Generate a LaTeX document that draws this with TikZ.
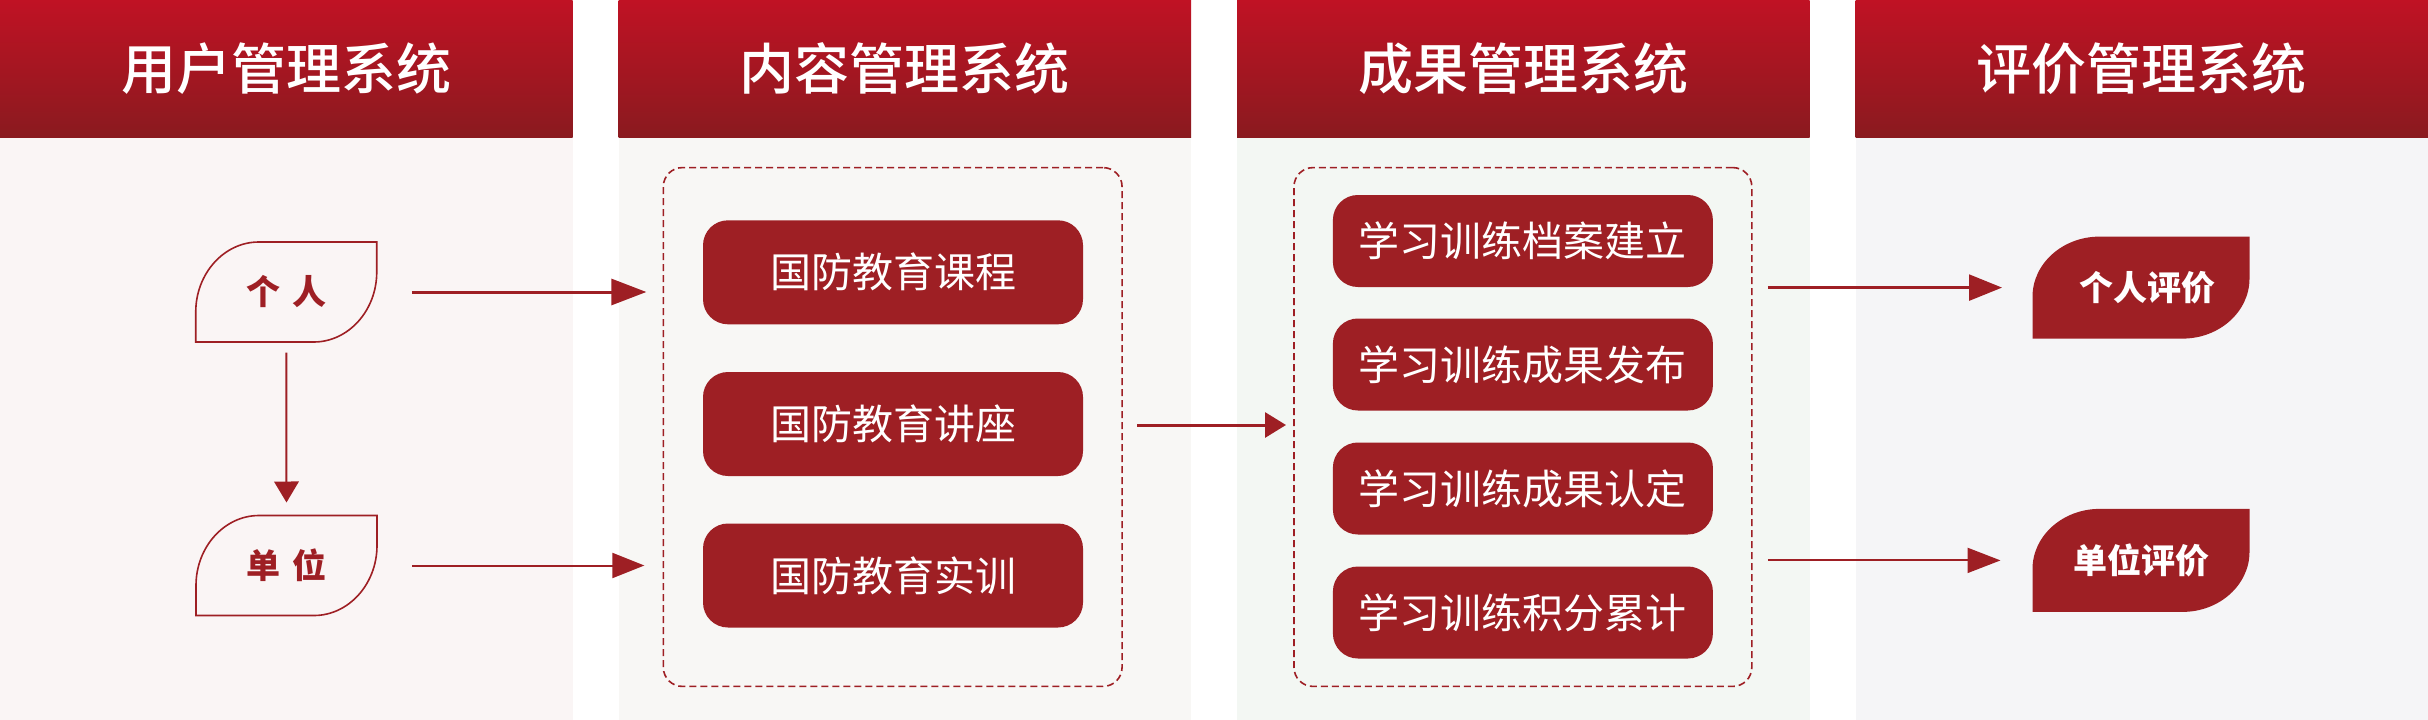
\documentclass[tikz,border=0pt]{standalone}
\usepackage{fontspec}
\setmainfont{Noto Sans CJK SC}
\newfontfamily\hfont{Noto Sans CJK SC Medium}
\usetikzlibrary{arrows.meta,calc,backgrounds}
\definecolor{dred}{HTML}{9E1F24}
\definecolor{htop}{HTML}{C01224}
\definecolor{hbot}{HTML}{8A1A1F}
\definecolor{bgA}{HTML}{FAF5F5}
\definecolor{bgB}{HTML}{F8F7F5}
\definecolor{bgC}{HTML}{F3F7F3}
\definecolor{bgD}{HTML}{F5F5F7}
\newcommand\leafpath[3]{(#1.south west) -- ($(#1.north west)+(0,#3)$) .. controls ($(#1.north west)+(0,#3*0.45)$) and ($(#1.north west)+(#2*0.45,0)$) .. ($(#1.north west)+(#2,0)$) -- (#1.north east) -- ($(#1.south east)+(0,-#3)$) .. controls ($(#1.south east)+(0,-#3*0.45)$) and ($(#1.south east)+(-#2*0.45,0)$) .. ($(#1.south east)+(-#2,0)$) -- cycle}
\begin{document}
\begin{tikzpicture}[x=1pt,y=-1pt,
  hdr/.style={minimum width=572.5pt, minimum height=137pt, inner sep=0pt, outer sep=0pt,
    top color=htop, bottom color=hbot, text=white, font=\hfont\fontsize{55}{60}\selectfont},
  item/.style={fill=dred, rounded corners=25pt, minimum width=380pt, inner sep=0pt, outer sep=0pt,
    text=white, font=\fontsize{41}{44}\selectfont},
  group/.style={draw=dred, dash pattern=on 7pt off 4pt, line width=1.6pt, rounded corners=19pt,
    inner sep=0pt, outer sep=0pt},
  leafnode/.style={inner sep=0pt, outer sep=0pt, font=\bfseries\fontsize{34}{36}\selectfont},
  leafline/.style={draw=dred, line width=1.6pt},
  link/.style={draw=dred, line width=2.5pt},
]
\useasboundingbox (0,0) rectangle (2428,720);
\begin{pgfonlayer}{background}
  \fill[bgA] (0,137) rectangle (572.5,720);
  \fill[bgB] (618.5,137) rectangle (1191,720);
  \fill[bgC] (1237,137) rectangle (1809.5,720);
  \fill[bgD] (1855.5,137) rectangle (2428,720);
\end{pgfonlayer}

% headers
\node[hdr] (h1) at (286.25,68.5) {用户管理系统};
\node[hdr] (h2) at (904.75,68.5) {内容管理系统};
\node[hdr] (h3) at (1523.25,68.5) {成果管理系统};
\node[hdr] (h4) at (2141.75,68.5) {评价管理系统};

% column 1
\node[leafnode, text=dred, minimum width=181pt, minimum height=100pt] (p) at (286.25,292) {个\hspace{4pt} 人};
\node[leafnode, text=dred, minimum width=181pt, minimum height=100pt] (u) at (286.5,565.5) {单\hspace{4pt} 位};
\draw[leafline] \leafpath{p}{63}{70};
\draw[leafline] \leafpath{u}{63}{70};

% column 2
\node[group, minimum width=458.7pt, minimum height=518.8pt] (cbox) at (892.7,427) {};
\node[item, minimum height=104pt] (c1) at (893,272.3) {国防教育课程};
\node[item, minimum height=104pt] (c2) at (893,424) {国防教育讲座};
\node[item, minimum height=104pt] (c3) at (893,575.5) {国防教育实训};

% column 3
\node[group, minimum width=457.8pt, minimum height=518.8pt] (rbox) at (1522.9,427) {};
\node[item, minimum height=92pt] (r1) at (1522.9,241) {学习训练档案建立};
\node[item, minimum height=92pt] (r2) at (1522.9,364.5) {学习训练成果发布};
\node[item, minimum height=92pt] (r3) at (1522.9,488.5) {学习训练成果认定};
\node[item, minimum height=92pt] (r4) at (1522.9,612.5) {学习训练积分累计};

% column 4
\node[leafnode, text=white, minimum width=217pt, minimum height=102pt] (pe) at (2141,287.6) {\hspace{12pt}个人评价};
\node[leafnode, text=white, minimum width=217pt, minimum height=103pt] (ue) at (2141,560.4) {单位评价};
\begin{pgfonlayer}{background}
  \fill[dred] \leafpath{pe}{67}{60};
  \fill[dred] \leafpath{ue}{67}{60};
\end{pgfonlayer}

% connectors
\draw[link, line width=3pt, -{Triangle[length=35pt,width=26pt]}, shorten <=35pt, shorten >=17pt]
  (p.east) -- (p.east -| cbox.west);
\draw[link, line width=2pt, -{Triangle[length=32pt,width=25pt]}, shorten <=35pt, shorten >=19pt]
  (u.east) -- (u.east -| cbox.west);
\draw[link, line width=2pt, -{Triangle[length=21pt,width=24.5pt]}, shorten <=10.6pt, shorten >=13pt]
  (p.south) -- (u.north);
\draw[link, line width=3pt, -{Triangle[length=21pt,width=25pt]}, shorten <=15pt, shorten >=8pt]
  ($(cbox.east)+(0,-2)$) -- ($(rbox.west)+(0,-2)$);
\draw[link, line width=2.5pt, -{Triangle[length=33pt,width=26pt]}, shorten <=16pt, shorten >=30.5pt]
  (pe.west -| rbox.east) -- (pe.west);
\draw[link, line width=2pt, -{Triangle[length=33pt,width=25pt]}, shorten <=16pt, shorten >=32pt]
  (ue.west -| rbox.east) -- (ue.west);
\end{tikzpicture}
\end{document}
